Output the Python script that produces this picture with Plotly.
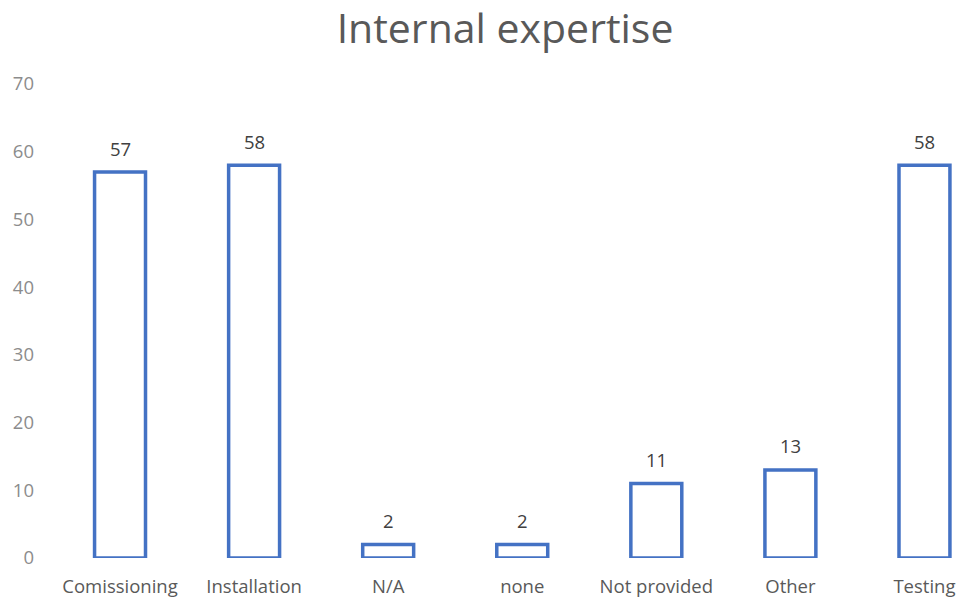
import plotly.graph_objects as go

categories = ["Comissioning", "Installation", "N/A", "none", "Not provided", "Other", "Testing"]
values = [57, 58, 2, 2, 11, 13, 58]
y_ticks = [0, 10, 20, 30, 40, 50, 60, 70]

fig = go.Figure(go.Bar(
    x=categories, y=values,
    width=0.38,
    marker=dict(color="white", line=dict(color="#4472C4", width=3.5)),
    hoverinfo="skip",
))

for c, v in zip(categories, values):
    fig.add_annotation(x=c, y=v, text=str(v), showarrow=False, yanchor="middle", yshift=24,
                       font=dict(family="Open Sans", size=18.5, color="#404040"))

fig.update_layout(
    width=962, height=601,
    margin=dict(l=53, r=0, t=84, b=43),
    paper_bgcolor="white", plot_bgcolor="white",
    title=dict(text="Internal expertise", x=0.525, xanchor="center", y=0.953, yanchor="middle",
               font=dict(family="Open Sans", size=41, color="#595959")),
    font=dict(family="Open Sans"),
    showlegend=False,
    xaxis=dict(range=[-0.5, 6.28], showgrid=False, showline=False, zeroline=False,
               tickfont=dict(size=18.5, color="#595959"), ticks="", ticklabelstandoff=15),
    yaxis=dict(range=[0, 70], tickvals=y_ticks, showgrid=False, showline=False, zeroline=False,
               tickfont=dict(size=18.5, color="#8C8C8C"), ticks="", ticklabelstandoff=18),
)

fig.write_html("out.html", config={"displayModeBar": False},
               post_script="document.body.style.margin='0';document.body.style.overflow='hidden';")
